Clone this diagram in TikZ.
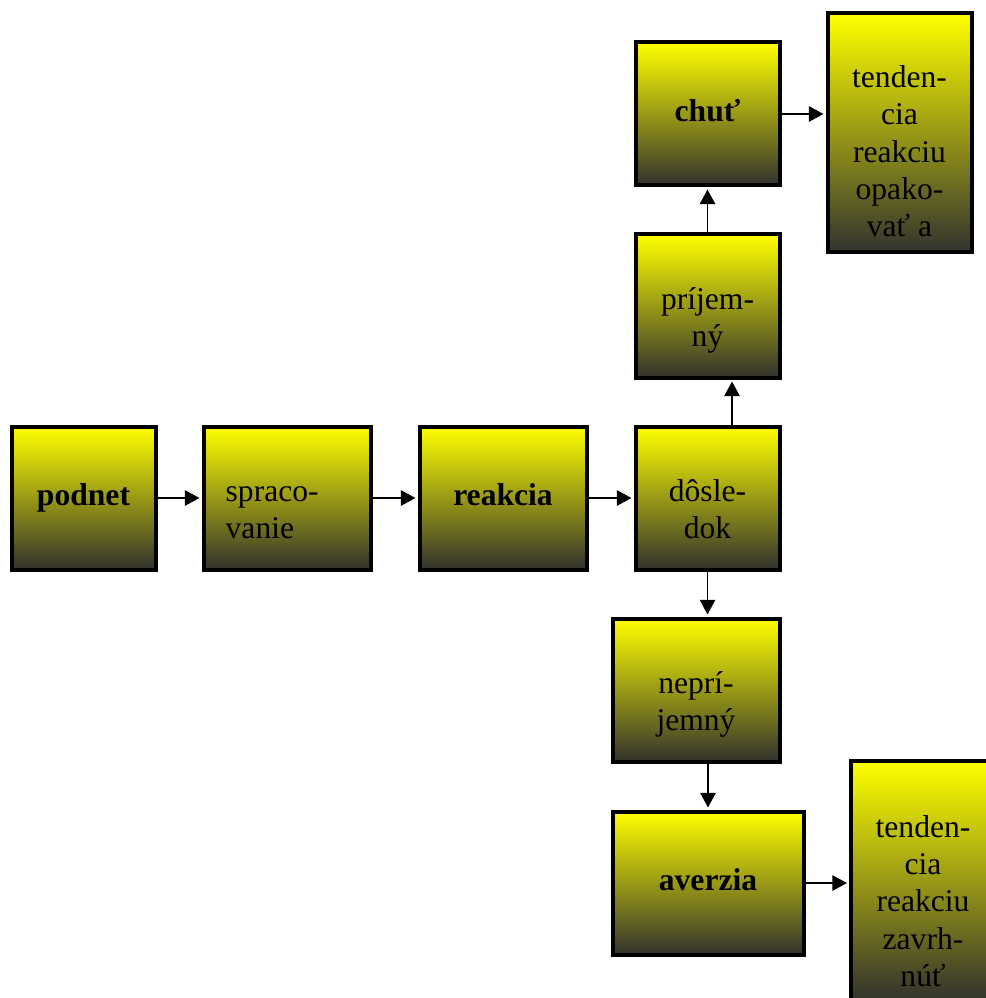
\documentclass[tikz,border=0pt]{standalone}
\usepackage{fontspec}
\setmainfont{Liberation Serif}
\usetikzlibrary{arrows.meta}
\newcommand{\lift}[1]{\rule{0pt}{#1}}
\newcommand{\sink}{\rule[-5.25pt]{0pt}{0pt}}
\definecolor{boxmid}{RGB}{172,168,34}
\definecolor{boxdark}{RGB}{50,50,45}
\tikzset{
  box/.style={draw=black, line width=3pt, top color=yellow, middle color=boxmid, bottom color=boxdark,
    minimum width=108pt, minimum height=107.25pt, inner sep=0pt, align=center,
    font=\fontsize{23.7pt}{28pt}\selectfont},
  wide/.style={minimum width=125.25pt},
  tall/.style={minimum height=179.25pt},
  arr/.style={line width=1.4pt, shorten >=1.5pt, -{Triangle[length=11pt,width=11.5pt]}}
}
\begin{document}
\begin{tikzpicture}[x=0.75pt,y=-0.75pt]
\useasboundingbox (0,0) rectangle (985,998);
\node[box] (podnet) at (83.5,498) {\lift{16pt}\textbf{podnet}\sink};
\node[box,wide,text width=92pt,align=left] (sprac) at (287,498) {\lift{38pt}spraco-\\vanie\sink};
\node[box,wide] (reakcia) at (503,498) {\lift{16pt}\textbf{reakcia}\sink};
\node[box] (dosledok) at (707.5,498) {\lift{38pt}dôsle-\\dok\sink};
\node[box] (prijemny) at (707.5,306) {\lift{38pt}príjem-\\ný\sink};
\node[box] (chut) at (707.5,114) {\lift{16pt}\textbf{chuť}\sink};
\node[box,tall] (tendA) at (899.5,133) {\lift{49pt}tenden-\\cia\\reakciu\\opako-\\vať a\sink};
\node[box,wide] (neprij) at (696,690) {\lift{38pt}neprí-\\jemný\sink};
\node[box,minimum width=143.25pt] (averzia) at (708,883) {\lift{16pt}\textbf{averzia}\sink};
\node[box,tall] (tendB) at (923,880.5) {\lift{52pt}tenden-\\cia\\reakciu\\zavrh-\\núť\sink};
\draw[arr] (podnet.east) -- (podnet.east -| sprac.west);
\draw[arr] (sprac) -- (reakcia);
\draw[arr] (reakcia) -- (dosledok);
\draw[arr] ([xshift=18.4pt]dosledok.north) -- ([xshift=18.4pt]prijemny.south);
\draw[arr] (prijemny) -- (chut);
\draw[arr] (chut.east) -- (chut.east -| tendA.west);
\draw[arr] (dosledok.south) -- (dosledok.south |- neprij.north);
\draw[arr] (averzia.north |- neprij.south) -- (averzia.north);
\draw[arr] (averzia.east) -- (averzia.east -| tendB.west);
\end{tikzpicture}
\end{document}
